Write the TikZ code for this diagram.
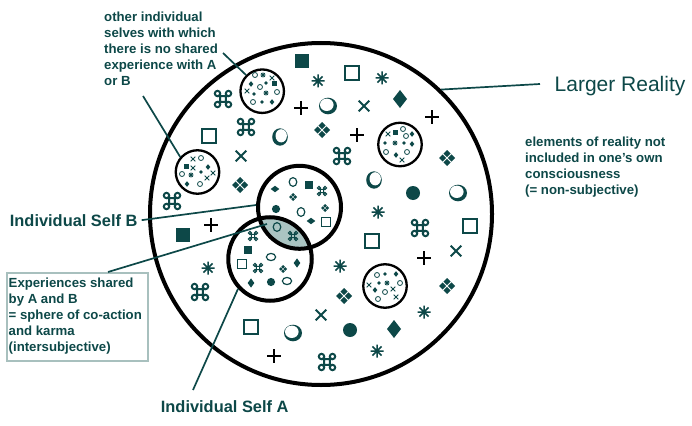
\documentclass[tikz,border=0pt]{standalone}
\usepackage{fontspec}
\setmainfont{Liberation Sans}
\definecolor{tl}{HTML}{0D4848}
\definecolor{boxc}{HTML}{A8C0BE}
\definecolor{lens}{HTML}{AAC4C2}
\tikzset{
  thk/.style={line width=2pt},
  cmdsym/.pic={\draw[tl,thk] (-5.5,-2.8)--(5.5,-2.8) (-5.5,2.8)--(5.5,2.8) (-2.8,-5.5)--(-2.8,5.5) (2.8,-5.5)--(2.8,5.5)
     (-5.5,-5.5) circle[radius=2.7] (5.5,-5.5) circle[radius=2.7] (-5.5,5.5) circle[radius=2.7] (5.5,5.5) circle[radius=2.7];},
  osq/.pic={\draw[tl,thk] (-7.2,-7.2) rectangle (7.2,7.2);},
  fsq/.pic={\fill[tl] (-7,-7) rectangle (7,7);},
  astsym/.pic={\draw[tl,line width=1.5pt] (-6.5,0)--(6.5,0) (0,-6.5)--(0,6.5) (-4.6,-4.6)--(4.6,4.6) (-4.6,4.6)--(4.6,-4.6);},
  xsym/.pic={\draw[tl,line width=2pt] (-5.3,-5.3)--(5.3,5.3) (-5.3,5.3)--(5.3,-5.3);},
  plussym/.pic={\draw[black,line width=2pt] (-7,0)--(7,0) (0,-7)--(0,7);},
  ellR/.pic={\fill[tl] (0,0) ellipse[x radius=9,y radius=8.3]; \fill[white] (-1.2,-1.2) ellipse[x radius=6.8,y radius=6.2];},
  ellL/.pic={\fill[tl] (0,0) ellipse[x radius=7.8,y radius=8.7]; \fill[white] (1.2,-1.2) ellipse[x radius=5.7,y radius=6.6];},
  fdia/.pic={\fill[tl] (0,-9)--(7,0)--(0,9)--(-7,0)--cycle;},
  fourdia/.pic={\foreach \a/\b in {0/-4.4,4.4/0,0/4.4,-4.4/0}
     \fill[tl] (\a,\b) ++(0,-3.6) -- ++(3.6,3.6) -- ++(-3.6,3.6) -- ++(-3.6,-3.6) -- cycle;},
  oct/.pic={\fill[tl] (0,0) circle[radius=7];},
  ocmv/.pic={\draw[tl,line width=1.2pt] (0,0) ellipse[x radius=3.8,y radius=4.4];},
  ocmh/.pic={\draw[tl,line width=1.2pt] (0,0) ellipse[x radius=4.6,y radius=3.6];},
  fdm/.pic={\fill[tl] (0,0) circle[radius=4.1];},
  fsqm/.pic={\fill[tl] (-3.8,-3.8) rectangle (3.8,3.8);},
  osqm/.pic={\draw[tl,line width=1.2pt] (-4.2,-4.2) rectangle (4.2,4.2);},
  vdia/.pic={\fill[tl] (0,-4.6)--(3.3,0)--(0,4.6)--(-3.3,0)--cycle;},
  hdia/.pic={\fill[tl] (-4.3,0)--(0,-3.2)--(4.3,0)--(0,3.2)--cycle;},
  mid/.style={scale=0.56,thk/.style={line width=1.1pt}},
  tc/.pic={\draw[tl,line width=0.8pt] (0,0) circle[radius=2.5];},
  td/.pic={\fill[tl] (0,0) circle[radius=1.8];},
  tdia/.pic={\fill[tl] (0,-2.8)--(2.3,0)--(0,2.8)--(-2.3,0)--cycle;},
  tx/.pic={\draw[tl,line width=0.9pt] (-2.3,-2.3)--(2.3,2.3) (-2.3,2.3)--(2.3,-2.3);},
  tast/.pic={\draw[tl,line width=0.8pt] (-2.6,0)--(2.6,0) (0,-2.6)--(0,2.6) (-1.8,-1.8)--(1.8,1.8) (-1.8,1.8)--(1.8,-1.8);},
  tsq/.pic={\fill[tl] (-2.5,-2.5) rectangle (2.5,2.5);},
}
\begin{document}
\begin{tikzpicture}[x=1pt,y=-1pt,
  lab/.style={text=tl,font=\bfseries\fontsize{13.2}{16}\selectfont,inner sep=0pt,align=left,anchor=north west},
  biglab/.style={text=tl,font=\bfseries\fontsize{16.4}{19}\selectfont,inner sep=0pt,anchor=base west},
  conn/.style={draw=tl,line width=1.7pt},
  ring/.style={circle,draw=black,inner sep=0pt,line width=4pt},
  minor/.style={circle,draw=black,inner sep=0pt,line width=2.3pt,minimum size=43.5pt}]
\useasboundingbox (0,0) rectangle (692,425);
\fill[white] (0,0) rectangle (692,425);

% circles
\node[ring,minimum size=342pt] (reality) at (321,214) {};
\begin{scope}
  \clip (270,259) circle[radius=41.75pt];
  \fill[lens] (299.5,207.3) circle[radius=41.5pt];
\end{scope}
\node[ring,minimum size=83pt] (selfB) at (299.5,207.3) {};
\node[ring,minimum size=83.5pt] (selfA) at (270,259) {};
\node[minor] (other1) at (262.2,91.2) {};
\node[minor] (other2) at (197.5,172) {};
\node[minor] (other3) at (400,144.5) {};
\node[minor] (other4) at (385,286) {};

% large symbols
\foreach \p in {(223,99),(246,127),(342,156),(172,201),(200,292),(420,228),(327,362)} \pic at \p {cmdsym};
\foreach \p in {(209,136),(352,73),(470,226),(372,241),(251,327)} \pic at \p {osq};
\foreach \p in {(302,61),(183,235)} \pic at \p {fsq};
\foreach \p in {(318,81),(382,78),(378,212),(340,266),(208,268),(424,312),(377,351)} \pic at \p {astsym};
\foreach \p in {(241,156),(364,106),(456,251),(321,315)} \pic at \p {xsym};
\foreach \p in {(301,108),(357,135),(432,117),(211,225),(424,258),(274,356)} \pic at \p {plussym};
\foreach \p in {(328,106),(458,193),(293,333)} \pic at \p {ellR};
\foreach \p in {(280,137),(374,180)} \pic at \p {ellL};
\foreach \p in {(400,99),(394,329)} \pic at \p {fdia};
\foreach \p in {(322,130),(240,185),(447,158),(447,286),(344,296)} \pic at \p {fourdia};
\foreach \p in {(413,193),(350,330)} \pic at \p {oct};

% inside self B / A
\foreach \p in {(322,191),(293,236),(253,236),(258,268)} \pic[mid] at \p {cmdsym};
\foreach \p in {(293,197),(325,208),(283,269)} \pic[scale=0.5] at \p {fourdia};
\foreach \p in {(293,182),(301,212),(277,227)} \pic at \p {ocmv};
\foreach \p in {(271,257),(287,281)} \pic at \p {ocmh};
\foreach \p in {(309,185),(248,250)} \pic at \p {fsqm};
\foreach \p in {(326,222),(242,264)} \pic at \p {osqm};
\foreach \p in {(276,209),(271,282)} \pic at \p {fdm};
\foreach \p in {(275,189),(311,221)} \pic at \p {hdia};
\foreach \p in {(297,263),(251,283)} \pic at \p {vdia};

% tiny symbols in other selves
\foreach \p in {(255,75),(260,87),(277,92),(253,102),(201,158),(182,174),(200,184),(403,129),(406,136),(386,152),(407,152),(377,275),(400,283),(385,292),(378,299)} \pic at \p {tc};
\foreach \p in {(266,83),(254,94),(262,102),(201,172),(385,143),(404,143),(385,274),(379,283)} \pic at \p {td};
\foreach \p in {(251,84),(272,102),(208,167),(187,184),(412,134),(412,144),(396,155),(396,274),(375,290)} \pic at \p {tdia};
\foreach \p in {(272,78),(247,91),(193,159),(193,168),(213,173),(207,178),(388,134),(402,160),(369,285),(393,289),(396,297)} \pic at \p {tx};
\foreach \p in {(263,75),(266,93),(191,175),(395,143),(387,283)} \pic at \p {tast};
\foreach \p in {(274,84),(186,166),(395,132)} \pic at \p {tsq};

% labels
\node[lab] (othertxt) at (104,11.4) {other individual\\selves with which\\there is no shared\\experience with A\\or B};
\node[lab] (elemtxt) at (525,136.6) {elements of reality not\\included in one's own\\consciousness\\(= non-subjective)};
\node[draw=boxc,line width=2.3pt,inner sep=0pt,minimum width=141.2pt,minimum height=88pt,anchor=north west] (sharedbox) at (5.5,272) {};
\node[lab] (sharedtxt) at (8.5,277.7) {Experiences shared\\by A and B\\= sphere of co-action\\and karma\\(intersubjective)};
\node[font=\fontsize{21}{25}\selectfont,text=tl,inner sep=0pt,anchor=base west] (larger) at (554.5,91.7) {Larger Reality};
\node[biglab] (labB) at (9.7,226) {Individual Self B};
\node[biglab] (labA) at (160.7,412.3) {Individual Self A};

% connectors
\coordinate (c1) at (223,53);
\coordinate (c2) at (143,96);
\coordinate (c3) at (540,84);
\coordinate (c4) at (108,272);
\coordinate (c5) at (267,224);
\coordinate (c6) at (193,390);
\draw[conn] (c1) -- (other1.135);
\draw[conn] (c2) -- (other2.139);
\draw[conn] (reality.46.6) -- (c3);
\draw[conn] ([xshift=4pt]labB.east) -- (selfB.177.5);
\draw[conn] (c4) -- (c5);
\draw[conn] (c6) -- (selfA.223);
\end{tikzpicture}
\end{document}
